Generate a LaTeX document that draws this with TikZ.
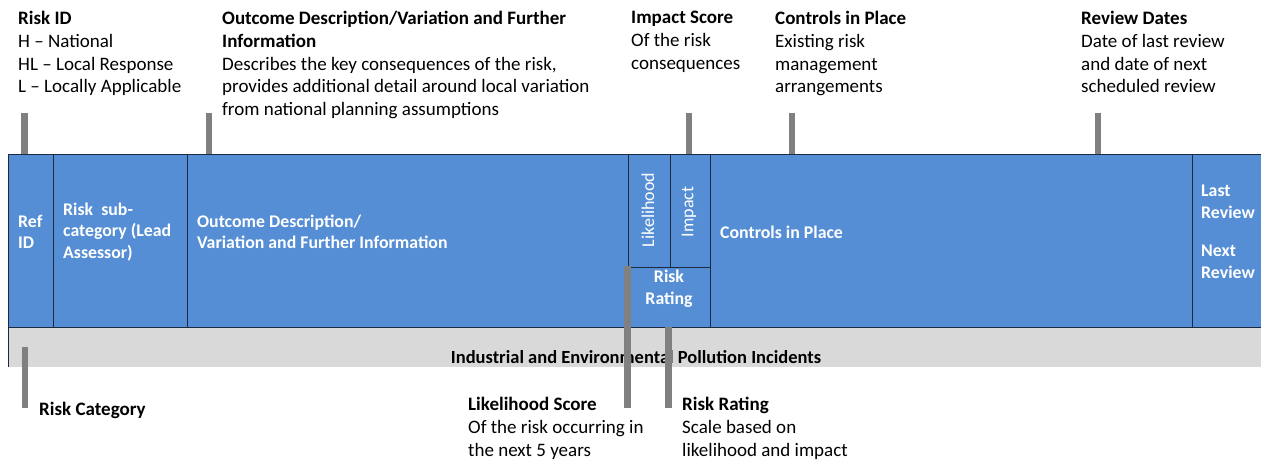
\documentclass[tikz,border=0pt]{standalone}
\usepackage{fontspec}
\setmainfont{Carlito}
\definecolor{bandblue}{HTML}{558ED5}
\definecolor{bordc}{HTML}{1B2A41}
\definecolor{catgray}{HTML}{D9D9D9}
\definecolor{markgray}{HTML}{808080}
\begin{document}
\begin{tikzpicture}[x=1pt,y=-1pt,
  cell/.style={draw=bordc, line width=1pt, fill=bandblue, anchor=north west, inner sep=0pt, outer sep=0pt},
  celltext/.style={text=white, font=\fontsize{17.8}{21.5}\selectfont\bfseries, align=left, inner sep=0pt},
  celllight/.style={text=white, font=\fontsize{18}{21.5}\selectfont, inner sep=0pt},
  note/.style={font=\fontsize{19}{22.8}\selectfont, align=left, inner sep=0pt, anchor=north west},
  marker/.style={draw=markgray, line width=6.5pt},
]
\useasboundingbox (0,0) rectangle (1261,462);
\clip (0,0) rectangle (1261,462);

% category band
\node[fill=catgray, anchor=north west, inner sep=0pt, minimum width=1270pt, minimum height=39pt] (catband) at (8,328) {};
\draw[bordc, line width=1pt] (catband.north west) -- (catband.south west);

% header cells
\node[cell, minimum width=45pt,  minimum height=173pt] (refcell)  at (8,155) {};
\node[cell, minimum width=134pt, minimum height=173pt] (subcell)  at (53,155) {};
\node[cell, minimum width=441pt, minimum height=173pt] (outcell)  at (187,155) {};
\node[cell, minimum width=42pt,  minimum height=113pt] (likecell) at (628,155) {};
\node[cell, minimum width=40pt,  minimum height=113pt] (impcell)  at (670,155) {};
\node[cell, minimum width=82pt,  minimum height=60pt]  (ratecell) at (628,268) {};
\node[cell, minimum width=482pt, minimum height=173pt] (ctrlcell) at (710,155) {};
\node[cell, minimum width=90pt,  minimum height=173pt] (revcell)  at (1192,155) {};

% cell texts
\node[celltext, anchor=west] (reftxt)  at (18,232)  {Ref\\ID};
\node[celltext, anchor=west] (subtxt)  at (63,232)  {Risk\ \ sub-\\category (Lead\\Assessor)};
\node[celltext, anchor=west] (outtxt)  at (197,232) {Outcome Description/\\Variation and Further Information};
\node[celllight, rotate=90]  (liketxt) at (648,210) {Likelihood};
\node[celllight, rotate=90]  (imptxt)  at (689,212) {Impact};
\node[celltext, align=center] (ratetxt) at (669,289) {Risk\\Rating};
\node[celltext, anchor=west] (ctrltxt) at (720,232) {Controls in Place};
\node[celltext, anchor=west] (revtxt)  at (1201,232) {Last\\Review\\[17pt]Next\\Review};
\node[font=\fontsize{18.5}{20}\selectfont\bfseries, inner sep=0pt] (cattxt) at (636,357) {Industrial and Environmental Pollution Incidents};

% annotations
\node[note] (nRiskID) at (18,11) {\textbf{Risk ID}\\H – National\\HL – Local Response\\L – Locally Applicable};
\node[note] (nOutcome) at (222,11) {\textbf{Outcome Description/Variation and Further}\\\textbf{Information}\\Describes the key consequences of the risk,\\provides additional detail around local variation\\from national planning assumptions};
\node[note] (nImpact) at (631,11) {\textbf{Impact Score}\\Of the risk\\consequences};
\node[note] (nControls) at (775,11) {\textbf{Controls in Place}\\Existing risk\\management\\arrangements};
\node[note] (nReview) at (1081,11) {\textbf{Review Dates}\\Date of last review\\and date of next\\scheduled review};
\node[note] (nCategory) at (39,402) {\textbf{Risk Category}};
\node[note] (nLikely) at (468,397) {\textbf{Likelihood Score}\\Of the risk occurring in\\the next 5 years};
\node[note] (nRating) at (682,397) {\textbf{Risk Rating}\\Scale based on\\likelihood and impact};

% marker bars
\draw[marker] (24.5,113) -- (24.5,154);
\draw[marker] (209,113) -- (209,154);
\draw[marker] (689,113) -- (689,154);
\draw[marker] (792,113) -- (792,154);
\draw[marker] (1098,113) -- (1098,154);
\draw[marker] (25,347) -- (25,408);
\draw[marker] (627.5,266) -- (627.5,408);
\draw[marker] (668.5,327) -- (668.5,408);
\end{tikzpicture}
\end{document}
